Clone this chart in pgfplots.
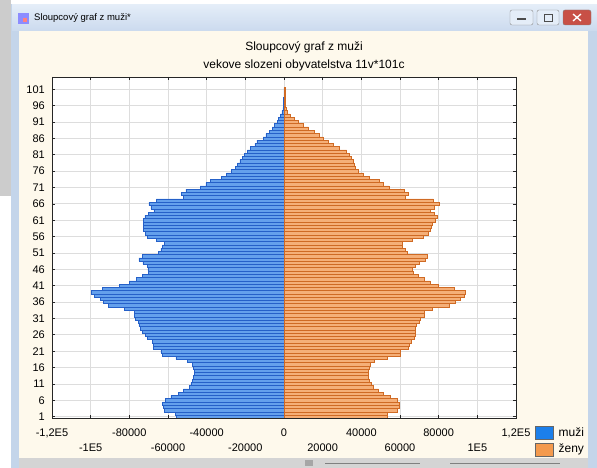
\documentclass[border=0pt]{standalone}
\usepackage{fontspec}
\setmainfont{Liberation Sans}
\usepackage{pgfplots}
\usepackage{pgfplotstable}
\pgfplotsset{compat=1.18}
\definecolor{cream}{HTML}{FEF9EC}
\definecolor{frameblue}{HTML}{C4D5EA}
\definecolor{titletop}{HTML}{E4EDF8}
\definecolor{titlebot}{HTML}{CBDAEE}
\definecolor{gridc}{HTML}{DDDDDD}
\definecolor{mfill}{HTML}{64A0EC}
\definecolor{mdraw}{HTML}{2560C8}
\definecolor{ffill}{HTML}{F5AF78}
\definecolor{fdraw}{HTML}{CF6A24}
\definecolor{legblue}{HTML}{1C7FEA}
\definecolor{legorange}{HTML}{F49A4E}

\pgfplotstableread{
age m f
1 -55700 53200
2 -56000 53300
3 -62000 58500
4 -62300 59800
5 -62800 59800
6 -61500 58800
7 -58500 55000
8 -54500 51500
9 -52000 49000
10 -48800 46000
11 -48200 45300
12 -47200 44300
13 -47000 43800
14 -46300 43500
15 -46300 43600
16 -46800 44000
17 -47300 44500
18 -50100 46800
19 -55900 53200
20 -62900 60100
21 -63700 60100
22 -67700 64100
23 -67700 65000
24 -68100 65800
25 -70600 67500
26 -71500 68000
27 -73400 67800
28 -74300 68000
29 -75100 68500
30 -75500 70200
31 -76900 70600
32 -77200 72300
33 -77400 72700
34 -82400 76600
35 -90800 85300
36 -93400 88800
37 -95100 91400
38 -98100 93400
39 -99500 94000
40 -94000 87900
41 -85200 79700
42 -79800 75400
43 -76500 72700
44 -73400 69200
45 -70300 66800
46 -70400 66300
47 -70800 68000
48 -73000 70200
49 -75100 73000
50 -73400 74000
51 -64800 64000
52 -63700 62700
53 -62900 61000
54 -62000 61000
55 -66000 66600
56 -70700 71900
57 -71500 74500
58 -72700 75900
59 -72700 76200
60 -72900 76800
61 -72700 78000
62 -72000 79100
63 -70300 77500
64 -67300 75600
65 -68900 77500
66 -69900 80100
67 -66000 77200
68 -52000 62600
69 -53200 64500
70 -50700 62000
71 -43400 54200
72 -40400 51500
73 -38200 49400
74 -32400 44300
75 -29700 41100
76 -27400 38500
77 -25100 36800
78 -24000 36100
79 -22800 35700
80 -21700 35000
81 -20500 33700
82 -18900 32400
83 -17400 28500
84 -15100 25500
85 -14000 22900
86 -10800 20300
87 -9400 18000
88 -7600 15400
89 -6200 12800
90 -5100 10100
91 -3600 7600
92 -2800 5100
93 -1900 3000
94 -1100 1800
95 -600 1100
96 -400 800
97 -200 500
98 -150 450
99 -100 400
100 -50 400
101 -50 400
}\pyr

\begin{document}
\begin{tikzpicture}[x=1pt,y=1pt]
\useasboundingbox (0,0) rectangle (597,468);
\fill[white] (0,0) rectangle (597,468);
% left grey strip of the desktop
\fill[black!20] (0,272) rectangle (11,468);
% window frame
\fill[frameblue] (11,0) rectangle (597,464);
\shade[top color=titletop, bottom color=titlebot] (12,437) rectangle (597,463);
\fill[cream] (19,10) rectangle (588,437);
\fill[black!17] (19,0) rectangle (588,10);
% title bar content
\fill[blue!45!white] (18,444) rectangle (29,455);
\fill[red!50!white] (23,446) rectangle (27,450);
\node[anchor=west, font=\fontsize{9.5}{10}\selectfont, inner sep=0pt] at (34,450) {Sloupcový graf z muži*};
\draw[black!45, fill=titletop, rounded corners=2pt] (510,443) rectangle (533,458);
\draw[black!70, line width=1.2pt] (517,449) -- (526,449);
\draw[black!45, fill=titletop, rounded corners=2pt] (537,443) rectangle (559,458);
\draw[black!70] (544,447) rectangle (552,454);
\draw[black!50, fill={rgb,255:red,200;green,80;blue,70}, rounded corners=2pt] (563,443) rectangle (591,458);
\draw[white, line width=1.3pt] (573,447) -- (581,454) (573,454) -- (581,447);
% bottom scroll bar hints
\fill[black!35] (305,2) rectangle (313,8);
\draw[black!50] (325,5) -- (420,5) (450,5) -- (560,5);
% chart titles
\node[font=\fontsize{12}{14}\selectfont, inner sep=0pt] at (304,421) {Sloupcový graf z muži};
\node[font=\fontsize{12}{14}\selectfont, inner sep=0pt] at (304,403) {vekove slozeni obyvatelstva 11v*101c};
\begin{axis}[
  at={(52pt,50pt)}, anchor=south west,
  width=464pt, height=341pt, scale only axis,
  xmin=-120000, xmax=120000,
  ymin=0.6, ymax=104.76,
  /pgf/number format/assume math mode=true,
  axis background/.style={fill=white},
  axis line style={black!85, line width=0.8pt},
  grid=major,
  major grid style={gridc, line width=0.9pt},
  tick align=inside, tick pos=both,
  major tick length=3pt,
  tick style={black!85, line width=0.7pt},
  ytick={1,6,...,101},
  yticklabel style={font=\fontsize{11}{13}\selectfont, inner sep=0pt, xshift=-7pt},
  xtick={-120000,-80000,-40000,0,40000,80000,120000},
  xticklabels={{-1,2E5},-80000,-40000,0,40000,80000,{1,2E5}},
  xticklabel style={font=\fontsize{11}{13}\selectfont, inner sep=0pt, yshift=-11pt},
  extra x ticks={-100000,-60000,-20000,20000,60000,100000},
  extra x tick labels={-1E5,-60000,-20000,20000,60000,1E5},
  extra x tick style={grid=major, xticklabel style={yshift=-14.5pt}},
  scaled x ticks=false,
  legend style={at={(1,0)}, anchor=north west, xshift=19pt, yshift=-8pt,
    draw=none, fill=none, inner sep=0pt, row sep=3pt,
    font=\fontsize{12}{14}\selectfont,
    nodes={inner sep=0pt, anchor=west}},
  legend cell align=left,
  legend image code/.code={\draw[#1] (0pt,-6.5pt) rectangle (18pt,6.5pt);},
]
\addplot[xbar, bar shift=0pt, bar width=1, fill=mfill, draw=mdraw, line width=0.55pt, forget plot]
  table[x=m, y=age] {\pyr};
\addplot[xbar, bar shift=0pt, bar width=1, fill=ffill, draw=fdraw, line width=0.55pt, forget plot]
  table[x=f, y=age] {\pyr};
\addlegendimage{fill=legblue, draw=black!60}
\addlegendentry{\hspace{5pt}muži}
\addlegendimage{fill=legorange, draw=black!60}
\addlegendentry{\hspace{5pt}ženy}
\end{axis}
\end{tikzpicture}
\end{document}
